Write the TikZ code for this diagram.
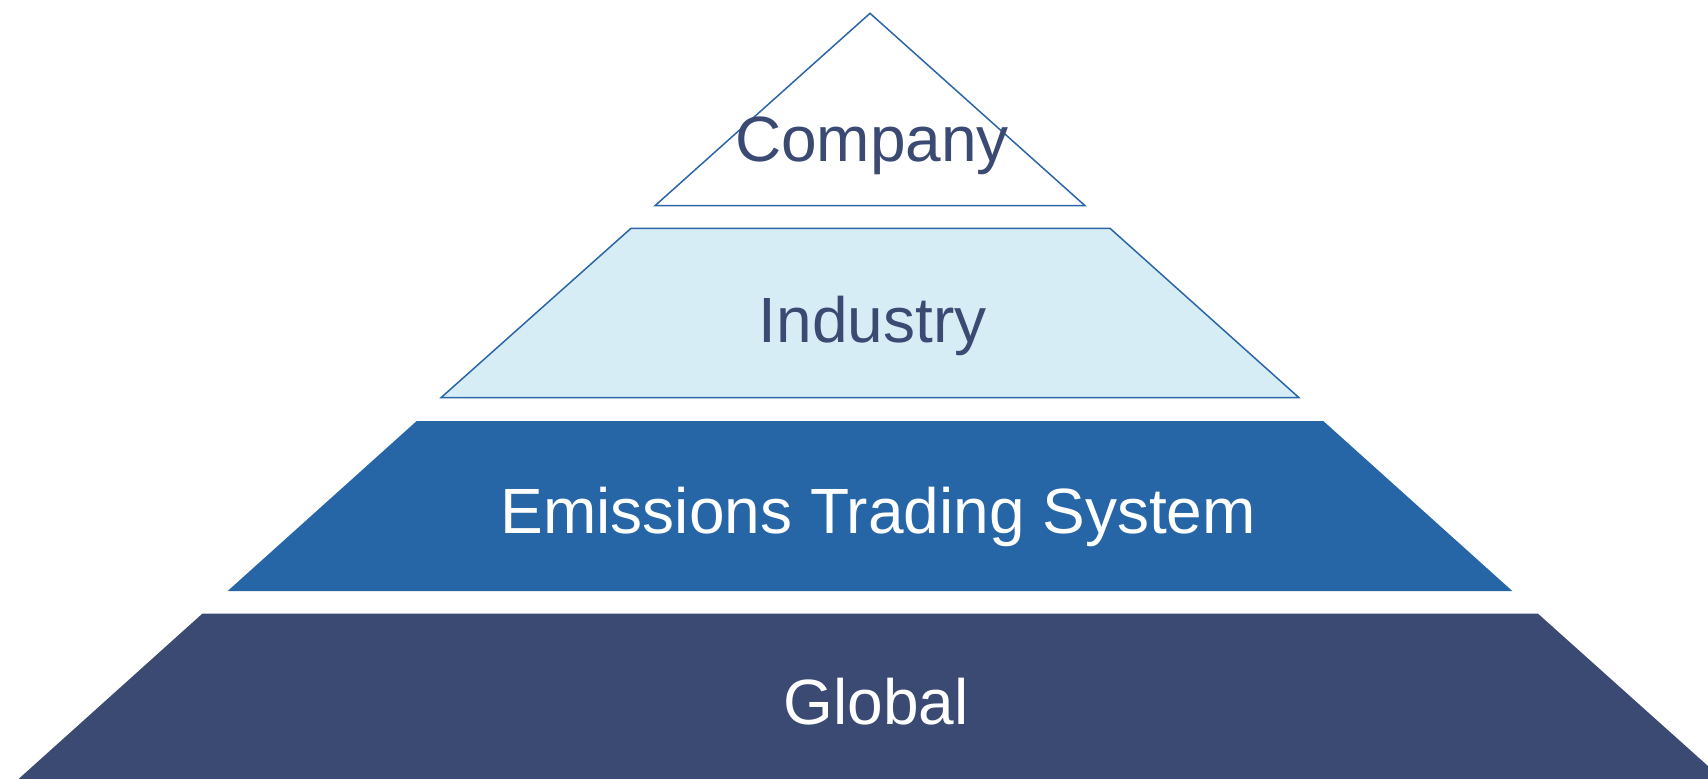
\documentclass[tikz,border=0pt]{standalone}
\usepackage{fontspec}
\setmainfont{Liberation Sans}
\definecolor{edgeblue}{HTML}{2A66A8}
\definecolor{lightfill}{HTML}{D7EDF6}
\definecolor{midblue}{HTML}{2766A6}
\definecolor{navy}{HTML}{3B4A72}
\begin{document}
\begin{tikzpicture}[x=1pt,y=-1pt,
  lbl/.style={anchor=base,inner sep=0pt,font=\fontsize{64}{77}\selectfont},
  outl/.style={draw=edgeblue,line width=1.5pt,line join=miter}]
\useasboundingbox (0,0) rectangle (1708,779);
\clip (0,0) rectangle (1708,779);
% Global
\fill[navy] (202.3,613.7) -- (1538,613.7) -- (1723,779.5) -- (18,779.5) -- cycle;
% Emissions Trading System
\fill[midblue] (416.7,421) -- (1323.3,421) -- (1512.3,591) -- (227.7,591) -- cycle;
% Industry
\filldraw[outl,fill=lightfill] (631,228.3) -- (1110,228.3) -- (1299,397.7) -- (441,397.7) -- cycle;
% Company
\filldraw[outl,fill=white] (870,13.3) -- (1085,205.7) -- (655,205.7) -- cycle;
\node[lbl,text=navy] (company) at (872,161.7) {Company};
\node[lbl,text=navy] (industry) at (872.5,342) {Industry};
\node[lbl,text=white] (ets) at (878.3,533.3) {Emissions Trading System};
\node[lbl,text=white] (global) at (876,724.5) {Global};
\end{tikzpicture}
\end{document}
